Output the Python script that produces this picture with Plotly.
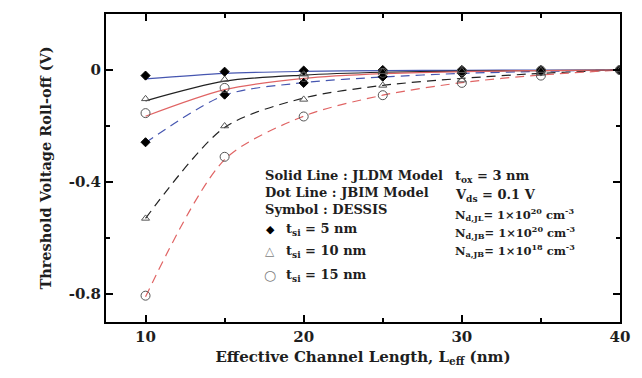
import plotly.graph_objects as go

# ---- data ----
L_eff = [10, 15, 20, 25, 30, 35, 40]

# Model curves (solid = JLDM, dashed = JBIM)
jldm_t5 = [-0.032, -0.012, -0.005, -0.002, -0.001, 0.0, 0.0]
jldm_t10 = [-0.11, -0.04, -0.018, -0.008, -0.004, -0.002, 0.0]
jldm_t15 = [-0.165, -0.07, -0.03, -0.013, -0.006, -0.002, 0.0]
jbim_t5 = [-0.26, -0.09, -0.045, -0.025, -0.012, -0.005, 0.0]
jbim_t10 = [-0.53, -0.205, -0.1, -0.055, -0.03, -0.012, 0.0]
jbim_t15 = [-0.81, -0.32, -0.165, -0.09, -0.045, -0.018, 0.0]

# DESSIS symbols
dessis_jl_t5 = [-0.02, -0.006, -0.002, 0.0, 0.0, 0.0, 0.0]
dessis_jl_t10 = [-0.103, -0.034, -0.015, -0.006, -0.003, -0.002, 0.0]
dessis_jl_t15 = [-0.154, -0.064, -0.025, -0.01, -0.004, -0.002, 0.0]
dessis_jb_t5 = [-0.258, -0.088, -0.046, -0.024, -0.012, -0.004, 0.0]
dessis_jb_t10 = [-0.53, -0.2, -0.105, -0.055, -0.036, -0.012, 0.0]
dessis_jb_t15 = [-0.806, -0.31, -0.166, -0.09, -0.046, -0.02, 0.0]

y_ticks = [0, -0.4, -0.8]
y_ticktext = ["<b>0</b>", "<b>-0.4</b>", "<b>-0.8</b>"]
x_ticks = [10, 20, 30, 40]
x_ticktext = ["<b>10</b>", "<b>20</b>", "<b>30</b>", "<b>40</b>"]

legend_symbols = ["◆", "△", "○"]
legend_labels = ["t<sub>si</sub> = 5 nm", "t<sub>si</sub> = 10 nm", "t<sub>si</sub> = 15 nm"]

FONT = "DejaVu Serif"
TXT = "#1e1e1e"
BLUE = "#4656b0"
BLACK = "#222222"
RED = "#e06464"
GRAY = "#555555"

# plot area in pixels
PL, PR, PT, PB = 106, 622, 12, 322
W, H = 642, 378
PW, PH = PR - PL, PB - PT


def px(xp):
    return (xp - PL) / PW


def py(yp):
    return 1 - (yp - PT) / PH


fig = go.Figure()


def line(y, color, dash, width=1.2):
    fig.add_trace(go.Scatter(x=L_eff, y=y, mode="lines", showlegend=False,
                             line=dict(color=color, dash=dash, width=width,
                                       shape="spline", smoothing=0.8)))


DASH = "9px,6px"
line(jbim_t5, BLUE, DASH)
line(jbim_t10, BLACK, DASH)
line(jbim_t15, RED, DASH)
line(jldm_t5, BLUE, "solid")
line(jldm_t10, BLACK, "solid")
line(jldm_t15, RED, "solid")


def sym(y, symbol, fill, lc, size):
    fig.add_trace(go.Scatter(x=L_eff, y=y, mode="markers", showlegend=False,
                             marker=dict(symbol=symbol, size=size, color=fill,
                                         line=dict(color=lc, width=1))))


sym(dessis_jb_t5, "diamond", "black", "black", 7)
sym(dessis_jb_t10, "triangle-up-open", GRAY, GRAY, 7)
sym(dessis_jb_t15, "circle-open", GRAY, GRAY, 9)
sym(dessis_jl_t5, "diamond", "black", "black", 7)
sym(dessis_jl_t10, "triangle-up-open", GRAY, GRAY, 7)
sym(dessis_jl_t15, "circle-open", GRAY, GRAY, 9)

# left text block
left_lines = ["<b>Solid Line : JLDM Model</b>", "<b>Dot Line : JBIM Model</b>",
              "<b>Symbol : DESSIS</b>"]
left_y = [175, 192, 209]
for t, yy in zip(left_lines, left_y):
    fig.add_annotation(text=t, xref="paper", yref="paper", x=px(264), y=py(yy),
                       xanchor="left", yanchor="middle", showarrow=False,
                       font=dict(family=FONT, size=13, color=TXT))

# symbol legend
leg_y = [229, 251, 275]
sym_sizes = [11, 12, 14]
sym_colors = ["black", "#808080", "#808080"]
for s, lab, yy, ss, sc in zip(legend_symbols, legend_labels, leg_y, sym_sizes, sym_colors):
    fig.add_annotation(text=s, xref="paper", yref="paper", x=px(271), y=py(yy),
                       xanchor="center", yanchor="middle", showarrow=False,
                       font=dict(family="DejaVu Sans", size=ss, color=sc))
    fig.add_annotation(text="<b>" + lab + "</b>", xref="paper", yref="paper", x=px(285), y=py(yy),
                       xanchor="left", yanchor="middle", showarrow=False,
                       font=dict(family=FONT, size=13, color=TXT))

# right text block
right_lines = ["<b>t<sub>ox</sub> = 3 nm</b>", "<b>V<sub>ds</sub> = 0.1 V</b>",
               "<b>N<sub>d,JL</sub>= 1×10<sup>20</sup> cm<sup>-3</sup></b>",
               "<b>N<sub>d,JB</sub>= 1×10<sup>20</sup> cm<sup>-3</sup></b>",
               "<b>N<sub>a,JB</sub>= 1×10<sup>18</sup> cm<sup>-3</sup></b>"]
right_y = [176, 195, 214, 232, 250]
right_size = [13, 13, 11.5, 11.5, 11.5]
for t, yy, s in zip(right_lines, right_y, right_size):
    fig.add_annotation(text=t, xref="paper", yref="paper", x=px(454), y=py(yy),
                       xanchor="left", yanchor="middle", showarrow=False,
                       font=dict(family=FONT, size=s, color=TXT))

axis_common = dict(showline=True, linecolor="black", linewidth=2, mirror="ticks",
                   ticks="inside", tickcolor="black", tickwidth=1.5, ticklen=7,
                   showgrid=False, zeroline=False,
                   tickfont=dict(family=FONT, size=15, color=TXT))

fig.update_xaxes(range=[7.5, 40], tickvals=x_ticks, ticktext=x_ticktext,
                 minor=dict(ticks="inside", dtick=5, tick0=0, ticklen=4,
                            tickcolor="black", tickwidth=1.5),
                 title=dict(text="<b>Effective Channel Length, L<sub>eff</sub> (nm)</b>",
                            font=dict(family=FONT, size=15, color=TXT), standoff=6),
                 **axis_common)
fig.update_yaxes(range=[-0.9, 0.2], tickvals=y_ticks, ticktext=y_ticktext,
                 minor=dict(ticks="inside", dtick=0.2, tick0=0, ticklen=4,
                            tickcolor="black", tickwidth=1.5),
                 title=dict(text="<b>Threshold Voltage Roll-off (V)</b>",
                            font=dict(family=FONT, size=14.5, color=TXT), standoff=14),
                 **axis_common)

fig.update_layout(
    width=W, height=H,
    margin=dict(l=PL, r=W - PR, t=PT, b=H - PB),
    paper_bgcolor="white", plot_bgcolor="white",
    font=dict(family=FONT, color=TXT),
    showlegend=False,
)

fig.write_html("out.html", config={"displayModeBar": False},
               post_script="document.body.style.margin='0';")
